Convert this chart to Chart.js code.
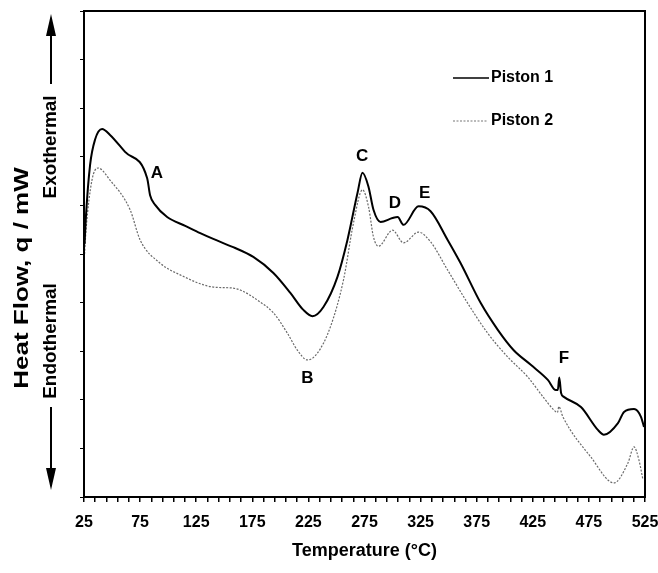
<!DOCTYPE html>
<html>
<head>
<meta charset="utf-8">
<script src="https://cdn.jsdelivr.net/npm/chart.js@4.4.0/dist/chart.umd.min.js"></script>
<style>
  html, body { margin: 0; padding: 0; background: #fff; }
  #wrap { width: 658px; height: 573px; }
</style>
</head>
<body>
<div id="wrap"><canvas id="chart"></canvas></div>
<script>
// DSC traces (temperature in °C, heat flow in arbitrary units)
const temp1 = [25.5, 26.8, 30.4, 34.8, 41.1, 48.2, 61.6, 81.3, 83.9, 88.4, 99.1, 115.2, 128.6, 140.2,
  158.0, 175.9, 193.8, 208.9, 220.5, 228.6, 238.4, 250.9, 259.8, 268.8, 273.2, 278.6, 283.0, 289.3,
  300.0, 304.5, 309.8, 323.2, 333.9, 349.1, 360.7, 378.6, 393.8, 408.0, 423.2, 438.4, 445.5, 447.3,
  448.6, 450.2, 452.7, 467.9, 483.0, 488.4, 500.9, 506.3, 515.2, 521.4, 524.1];
const heat1 = [52.0, 58.0, 68.3, 73.5, 75.7, 74.5, 71.0, 65.6, 62.1, 60.1, 57.6, 55.8, 54.3, 53.1,
  51.4, 49.4, 46.1, 42.0, 38.5, 37.2, 39.1, 45.3, 52.9, 62.6, 66.7, 63.8, 59.1, 56.6,
  57.4, 57.6, 56.0, 59.8, 58.8, 52.9, 48.1, 39.9, 34.4, 30.2, 27.2, 24.1, 22.0, 22.0,
  24.6, 21.4, 20.6, 18.5, 13.8, 12.8, 15.2, 17.5, 18.1, 16.5, 14.4];

const temp2 = [25.5, 26.8, 32.1, 37.5, 48.2, 66.1, 75.0, 92.9, 110.7, 140.2, 157.1, 166.1, 182.1,
  193.8, 206.3, 215.2, 224.1, 233.0, 244.6, 256.3, 265.2, 273.2, 278.6, 283.0, 287.5, 300.0, 309.8,
  323.2, 333.9, 349.1, 366.9, 384.8, 402.7, 420.5, 434.8, 443.8, 447.0, 448.2, 451.8, 476.8, 497.3,
  509.8, 515.2, 519.6, 523.2];
const heat2 = [50.0, 54.9, 65.2, 67.7, 65.2, 59.1, 52.9, 48.1, 45.7, 43.2, 43.0, 42.4, 40.1,
  37.9, 33.7, 30.2, 28.2, 29.6, 35.0, 44.7, 56.4, 63.2, 59.7, 53.5, 51.6, 54.9, 52.3,
  54.5, 52.5, 46.7, 39.9, 33.7, 28.8, 24.7, 20.4, 17.9, 17.4, 18.6, 16.5, 8.2, 2.9,
  7.0, 10.3, 7.6, 3.5];

const xTickLabels = [25, 75, 125, 175, 225, 275, 325, 375, 425, 475, 525];

// peak markers
const peakNames = ["A", "B", "C", "D", "E", "F"];
const peakTemps = [90, 224, 273, 302, 328.6, 452.7];
const peakHeats = [66.5, 24.5, 70.2, 60.5, 62.5, 28.5];

const FONT = '"Liberation Sans", Arial, Helvetica, sans-serif';

function toPoints(xs, ys) {
  return xs.map((x, i) => ({ x: x, y: ys[i] }));
}

// rotated label; stretch > 1 lengthens it along the text direction
function vText(ctx, text, x, y, size, stretch) {
  ctx.save();
  ctx.translate(x, y);
  ctx.rotate(-Math.PI / 2);
  ctx.scale(stretch || 1, 1);
  ctx.font = "bold " + size + "px " + FONT;
  ctx.textAlign = "center";
  ctx.textBaseline = "middle";
  ctx.fillText(text, 0, 0);
  ctx.restore();
}

function arrow(ctx, x, y0, y1) {
  // shaft from y0 to y1, head at y1
  const dir = y1 > y0 ? 1 : -1;
  ctx.beginPath();
  ctx.moveTo(x, y0);
  ctx.lineTo(x, y1 - dir * 18);
  ctx.lineWidth = 2;
  ctx.stroke();
  ctx.beginPath();
  ctx.moveTo(x, y1);
  ctx.lineTo(x - 5, y1 - dir * 22);
  ctx.lineTo(x + 5, y1 - dir * 22);
  ctx.closePath();
  ctx.fill();
}

const decor = {
  id: "decor",
  afterDraw(chart) {
    const ctx = chart.ctx;
    const a = chart.chartArea;
    const xs = chart.scales.x, ys = chart.scales.y;
    ctx.save();
    ctx.fillStyle = "#000";
    ctx.strokeStyle = "#000";

    // frame
    ctx.lineWidth = 2;
    ctx.strokeRect(a.left, a.top, a.right - a.left, a.bottom - a.top);

    // legend
    ctx.lineWidth = 1.6;
    ctx.beginPath();
    ctx.moveTo(453, 78); ctx.lineTo(489, 78);
    ctx.stroke();
    ctx.strokeStyle = "#777";
    ctx.lineWidth = 1.2;
    ctx.setLineDash([2, 1.5]);
    ctx.beginPath();
    ctx.moveTo(453, 121); ctx.lineTo(487, 121);
    ctx.stroke();
    ctx.setLineDash([]);
    ctx.font = "bold 16px " + FONT;
    ctx.textAlign = "left";
    ctx.textBaseline = "middle";
    ctx.fillText("Piston 1", 491, 78);
    ctx.fillText("Piston 2", 491, 121);

    // peak letters
    ctx.font = "bold 17px " + FONT;
    ctx.textAlign = "center";
    peakNames.forEach((n, i) => {
      ctx.fillText(n, xs.getPixelForValue(peakTemps[i]), ys.getPixelForValue(peakHeats[i]));
    });

    // y axis title and direction arrows
    ctx.strokeStyle = "#000";
    vText(ctx, "Heat Flow, q / mW", 22, 278, 20, 1.3);
    vText(ctx, "Exothermal", 51, 147, 18, 1.05);
    vText(ctx, "Endothermal", 51, 341, 18, 1.05);
    arrow(ctx, 51, 84, 14);
    arrow(ctx, 51, 407, 490);
    ctx.restore();
  }
};

new Chart(document.getElementById("chart"), {
  type: "line",
  data: {
    datasets: [
      {
        label: "Piston 1",
        data: toPoints(temp1, heat1),
        borderColor: "#000",
        borderWidth: 2,
        pointRadius: 0,
        cubicInterpolationMode: "monotone"
      },
      {
        label: "Piston 2",
        data: toPoints(temp2, heat2),
        borderColor: "#6a6a6a",
        borderWidth: 1.2,
        borderDash: [2, 1.5],
        pointRadius: 0,
        cubicInterpolationMode: "monotone"
      }
    ]
  },
  options: {
    responsive: true,
    maintainAspectRatio: false,
    animation: false,
    layout: { padding: { left: 0, top: 11, right: 13, bottom: 11 } },
    plugins: {
      legend: { display: false },
      tooltip: { enabled: false }
    },
    scales: {
      x: {
        type: "linear",
        min: 25,
        max: 525,
        border: { color: "#000", width: 2 },
        grid: { drawOnChartArea: false, drawTicks: true, tickLength: 5, color: "#000", lineWidth: 1.5 },
        ticks: {
          stepSize: 10,
          autoSkip: false,
          maxRotation: 0,
          padding: 11,
          color: "#000",
          font: { family: FONT, size: 16, weight: "bold" },
          callback: (v) => xTickLabels.includes(v) ? String(v) : ""
        },
        title: {
          display: true,
          text: "Temperature (\u00B0C)",
          color: "#000",
          font: { family: FONT, size: 18, weight: "bold" },
          padding: { top: 0, bottom: 0 }
        },
        afterFit: (s) => { s.height = 65; s.paddingLeft = 0; s.paddingRight = 0; }
      },
      y: {
        type: "linear",
        min: 0,
        max: 100,
        border: { color: "#000", width: 2 },
        grid: { drawOnChartArea: false, drawTicks: true, tickLength: 4, color: "#000", lineWidth: 1 },
        ticks: { display: false, stepSize: 10 },
        afterFit: (s) => { s.width = 84; }
      }
    }
  },
  plugins: [decor]
});
</script>
</body>
</html>
